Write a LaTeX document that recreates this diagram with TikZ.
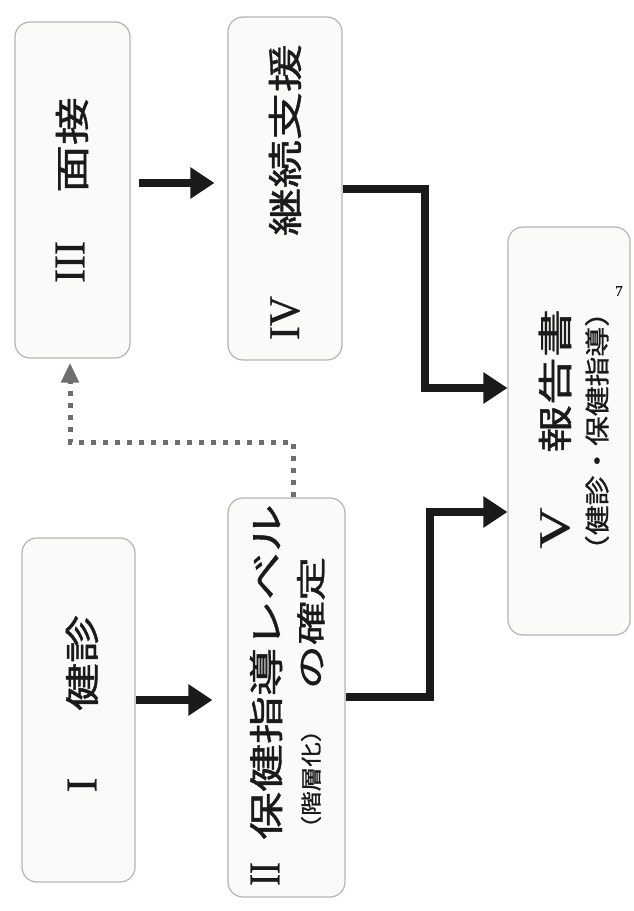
\documentclass[tikz,border=0pt]{standalone}
\usepackage{fontspec}
\usepackage{graphicx}
\setmainfont[FakeBold=0.6]{Liberation Serif}
\newfontfamily\jpfont[FakeBold=1.0]{Noto Sans CJK JP}
\usetikzlibrary{arrows.meta}
\definecolor{boxline}{HTML}{B4B4B4}
\definecolor{boxfill}{HTML}{FAFAF8}
\definecolor{ink}{HTML}{1A1A1A}
\definecolor{dotgray}{HTML}{6E6E6E}
\newcommand\jtxt[3]{\scalebox{#1}[1]{\fontsize{#2}{#2}\selectfont\jpfont #3}}
\newcommand\rnum[2]{\scalebox{#1}[1]{\fontsize{44}{44}\selectfont #2}}
\tikzset{
  stagebox/.style={draw=boxline, line width=1.2pt, fill=boxfill, rounded corners=15pt, inner sep=0pt},
  vtxt/.style={rotate=90, inner sep=0pt, anchor=center, text=ink},
  thickarrow/.style={draw=ink, line width=8pt, -{Triangle[length=24pt,width=30pt]}},
  dotarrow/.style={draw=dotgray, line width=5pt, dash pattern=on 5pt off 7pt, -{Triangle[length=20pt,width=17pt]}}
}
\begin{document}
\begin{tikzpicture}[x=1pt,y=-1pt]
\useasboundingbox (0,0) rectangle (634,911);
\fill[white] (0,0) rectangle (634,911);
% boxes
\node[stagebox, minimum width=113pt, minimum height=344pt] (nI)   at (78.5,710) {};
\node[stagebox, minimum width=117pt, minimum height=399pt] (nII)  at (286.5,697.5) {};
\node[stagebox, minimum width=115pt, minimum height=336pt] (nIII) at (72.5,190) {};
\node[stagebox, minimum width=114pt, minimum height=343pt] (nIV)  at (285,188.5) {};
\node[stagebox, minimum width=122pt, minimum height=408pt] (nV)   at (569,431) {};
% texts
\node[vtxt] (tI)   at (82,785) {\rnum{1}{I}};
\node[vtxt] (tIa)  at (82,663) {\jtxt{1.37}{35}{健診}};
\node[vtxt] (tII)  at (265,874) {\rnum{0.8}{II}};
\node[vtxt] (tIIa) at (266,672) {\jtxt{1.37}{35}{保健指導レベル}};
\node[vtxt] (tIIb) at (311,779) {\jtxt{1.17}{21}{（階層化）}};
\node[vtxt] (tIIc) at (311,623) {\jtxt{1.47}{30}{の確定}};
\node[vtxt] (tIII) at (70,262) {\rnum{0.95}{III}};
\node[vtxt] (tIIIa) at (72,145) {\jtxt{1.37}{35}{面接}};
\node[vtxt] (tIV)  at (285,318) {\rnum{0.95}{IV}};
\node[vtxt] (tIVa) at (285,140) {\jtxt{1.37}{35}{継続支援}};
\node[vtxt] (tV)   at (555,528) {\rnum{1.3}{V}};
\node[vtxt] (tVa)  at (555,381) {\jtxt{1.37}{35}{報告書}};
\node[vtxt] (tVb)  at (597,431) {\jtxt{1.19}{25}{（健診・保健指導）}};
\node[inner sep=0pt, text=ink] (tVc) at (619,291) {\fontsize{15}{15}\selectfont 7};
% helper coordinates
\coordinate (a1) at (0,700);
\coordinate (a3) at (0,183);
\coordinate (c4a) at (425,189);
\coordinate (c4b) at (425,388);
\coordinate (c2a) at (430,697);
\coordinate (c2b) at (430,512);
\coordinate (d1) at (293,442);
\coordinate (d2) at (70,442);
% connectors
\draw[thickarrow, shorten >=15pt] (nI.east |- a1) -- (nII.west |- a1);
\draw[thickarrow, shorten <=8pt, shorten >=13pt] (nIII.east |- a3) -- (nIV.west |- a3);
\draw[thickarrow] (nIV.east |- c4a) -- (c4a) -- (c4b) -- (nV.west |- c4b);
\draw[thickarrow] (nII.east |- c2a) -- (c2a) -- (c2b) -- (nV.west |- c2b);
\draw[dotarrow, shorten >=4pt] (nII.north -| d1) -- (d1) -- (d2) -- (nIII.south -| d2);
\end{tikzpicture}
\end{document}
